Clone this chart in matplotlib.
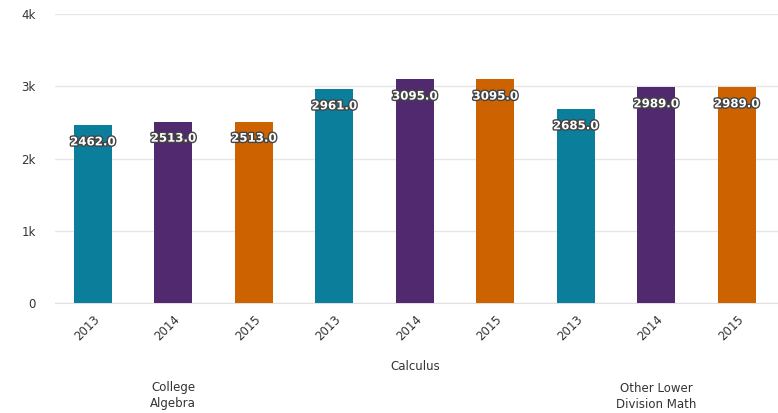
import numpy as np
import matplotlib.pyplot as plt
import matplotlib.patheffects as pe
from matplotlib.transforms import blended_transform_factory

plt.rcParams['font.family'] = ['DejaVu Sans']

categories = ["College\nAlgebra", "Calculus", "Other Lower\nDivision Math"]
years = ["2013", "2014", "2015"]
values = [2462.0, 2513.0, 2513.0,
          2961.0, 3095.0, 3095.0,
          2685.0, 2989.0, 2989.0]
year_colors = {"2013": "#0a7e9b", "2014": "#51296f", "2015": "#cc6200"}

fig = plt.figure(figsize=(7.78, 4.13), dpi=100)
ax = fig.add_axes([0.0707, 0.266, 0.929, 0.700])

x = np.arange(len(values))
tick_labels = years * len(categories)
colors = [year_colors[y] for y in tick_labels]
ax.bar(x, values, width=0.47, color=colors, zorder=3)

# value labels sit just under the top of each bar
for xi, v in zip(x, values):
    ax.annotate("{:.1f}".format(v), (xi, v), xytext=(0, -12), textcoords='offset points',
                ha='center', va='center', fontsize=8.5, fontweight='bold', color='white',
                path_effects=[pe.withStroke(linewidth=2, foreground='#444444')], zorder=4)

ax.set_xlim(-0.47, 8.51)
ax.set_ylim(0, 4000)
ax.set_yticks([0, 1000, 2000, 3000, 4000])
ax.set_yticklabels(["0", "1k", "2k", "3k", "4k"])
ax.grid(axis='y', color='#e6e6e6', linewidth=1, zorder=0)
for s in ['top', 'right', 'left']:
    ax.spines[s].set_visible(False)
ax.spines['bottom'].set_color('#e0e0e0')
ax.tick_params(axis='y', length=0, pad=14, labelsize=8.5, labelcolor='#333333')
ax.tick_params(axis='x', length=0, pad=7, labelsize=8.5, labelcolor='#333333')

ax.set_xticks(x)
ax.set_xticklabels(tick_labels, rotation=45, ha='right', rotation_mode='anchor')

trans = blended_transform_factory(ax.transData, fig.transFigure)
cat_pos = [1, 4, 7]
cat_y = [1 - 396 / 413, 1 - 367 / 413, 1 - 396 / 413]
for cx, cy, name in zip(cat_pos, cat_y, categories):
    ax.text(cx, cy, name, transform=trans, ha='center', va='center',
            fontsize=8.5, color='#333333', linespacing=1.3)

fig.savefig("out.png", dpi=100)
